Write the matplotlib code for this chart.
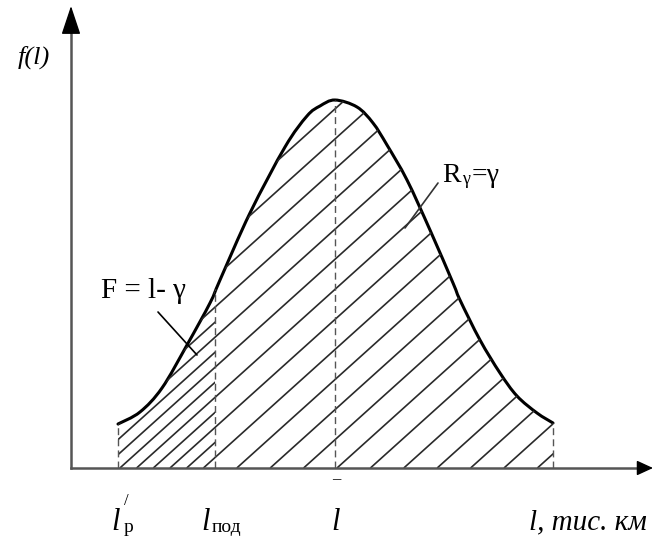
import numpy as np
import matplotlib.pyplot as plt
from matplotlib.patches import PathPatch
from matplotlib.path import Path
from matplotlib.collections import LineCollection

# curve (arbitrary units, origin at the axes corner)
l_vals = [47, 69, 91, 116, 139, 149, 179, 214, 236, 249, 264, 286, 302,
          316, 336, 359, 382, 389, 409, 429, 446, 466, 482]
f_vals = [44, 56, 80, 123, 165, 188, 255, 321, 352, 362, 368, 361, 345,
          323, 288, 238, 185, 168, 128, 95, 72, 55, 45]

l_p = 47       # l'_p, left end of the distribution
l_pod = 144    # l_под
l_mean = 264   # mean l
l_end = 482    # right end

x_axis_len = 582
y_axis_len = 460

plt.rcParams['font.family'] = ['Liberation Serif', 'DejaVu Serif']

fig = plt.figure(figsize=(6.54, 5.4), dpi=100)
ax = fig.add_axes([0, 0, 1, 1])
ax.set_xlim(-71, 583)
ax.set_ylim(-72, 468)
ax.axis('off')

x = np.array(l_vals, dtype=float)
f = np.array(f_vals, dtype=float)
pts = np.column_stack([x, f])


def smooth_path(p):
    # Catmull-Rom through the read points, drawn as cubic Bezier pieces
    verts = [p[0]]
    codes = [Path.MOVETO]
    for i in range(len(p) - 1):
        p0 = p[max(i - 1, 0)]
        p1, p2 = p[i], p[i + 1]
        p3 = p[min(i + 2, len(p) - 1)]
        verts += [p1 + (p2 - p0) / 6, p2 - (p3 - p1) / 6, p2]
        codes += [Path.CURVE4] * 3
    return verts, codes


cv, cc = smooth_path(pts)

# region under the curve
full_path = Path([(x[0], 0)] + cv + [(x[-1], 0), (x[0], 0)],
                 [Path.MOVETO, Path.LINETO] + cc[1:] + [Path.LINETO, Path.CLOSEPOLY])
full = PathPatch(full_path, fill=False, edgecolor='none')
ax.add_patch(full)

f_pod = np.interp(l_pod, x, f)
k = np.searchsorted(x, l_pod)
lv, lc_ = smooth_path(np.vstack([pts[:k], [l_pod, f_pod + 3]]))
left_path = Path([(x[0], 0)] + lv + [(l_pod, 0), (x[0], 0)],
                 [Path.MOVETO, Path.LINETO] + lc_[1:] + [Path.LINETO, Path.CLOSEPOLY])
left = PathPatch(left_path, fill=False, edgecolor='none')
ax.add_patch(left)

# hatching at about 42 degrees
ang = np.deg2rad(42)
run = 420 / np.tan(ang)
step = 33.4


def hatch(offsets, clip):
    segs = [[(b, 0), (b + run, 420)] for b in offsets]
    lc = LineCollection(segs, colors='#2a2a2a', linewidths=1.2)
    ax.add_collection(lc)
    lc.set_clip_path(clip)


start = l_mean + 2
hatch(np.arange(start - 30 * step, l_end + step, step), full)
hatch(np.arange(start - 30 * step + step / 2, l_pod, step), left)

# dashed verticals
ax.vlines([l_p, l_pod, l_mean, l_end], 0,
          [f[0], f_pod + 3, f.max(), f[-1]],
          colors='#555555', linestyles=(0, (5, 3)), linewidth=1.0)

# curve
ax.add_patch(PathPatch(Path(cv, cc), fill=False, edgecolor='black',
                       linewidth=2.2, capstyle='round', joinstyle='round'))

# axes with arrows
ax.plot([0, x_axis_len - 12], [0, 0], color='#555555', linewidth=1.8)
ax.plot([0, 0], [0, y_axis_len - 20], color='#555555', linewidth=1.8)
ax.annotate('', xy=(x_axis_len, 0), xytext=(x_axis_len - 14, 0),
            arrowprops=dict(arrowstyle='-|>,head_length=10,head_width=4.6',
                            mutation_scale=1, color='black', lw=1, shrinkA=0, shrinkB=0))
ax.annotate('', xy=(0, y_axis_len + 2), xytext=(0, y_axis_len - 25),
            arrowprops=dict(arrowstyle='-|>,head_length=18,head_width=6',
                            mutation_scale=1, color='black', lw=1, shrinkA=0, shrinkB=0))

# labels
ax.text(-37, 411, 'f(l)', style='italic', fontsize=19, ha='center', va='center')

ax.text(72, 177, 'F = l- γ', fontsize=21, ha='center', va='center')
ax.annotate('', xy=(126, 113), xytext=(87, 156),
            arrowprops=dict(arrowstyle='-', color='black', lw=1.2, shrinkA=0, shrinkB=0))

ax.text(371, 292, 'R', fontsize=20, ha='left', va='center')
ax.text(391, 289, 'γ', fontsize=13, ha='left', va='center')
ax.text(401, 292, '=γ', fontsize=20, ha='left', va='center')
ax.annotate('', xy=(334, 240), xytext=(367, 285),
            arrowprops=dict(arrowstyle='-', color='#333333', lw=1.2, shrinkA=0, shrinkB=0))

# tick labels under the axis
ax.text(45, -54, 'l', style='italic', fontsize=22, ha='center', va='center')
ax.text(55, -33, '/', fontsize=12, ha='center', va='center')
ax.text(57, -60, 'р', fontsize=14, ha='center', va='center')

ax.text(135, -54, 'l', style='italic', fontsize=22, ha='center', va='center')
ax.text(156, -59, 'под', fontsize=14, ha='center', va='center')

ax.text(265, -54, 'l', style='italic', fontsize=22, ha='center', va='center')
ax.text(265, -11, '–', fontsize=12, ha='center', va='center')

ax.text(517, -54, 'l, тис. км', style='italic', fontsize=21, ha='center', va='center')

fig.savefig('out.png', dpi=100, facecolor='white')
